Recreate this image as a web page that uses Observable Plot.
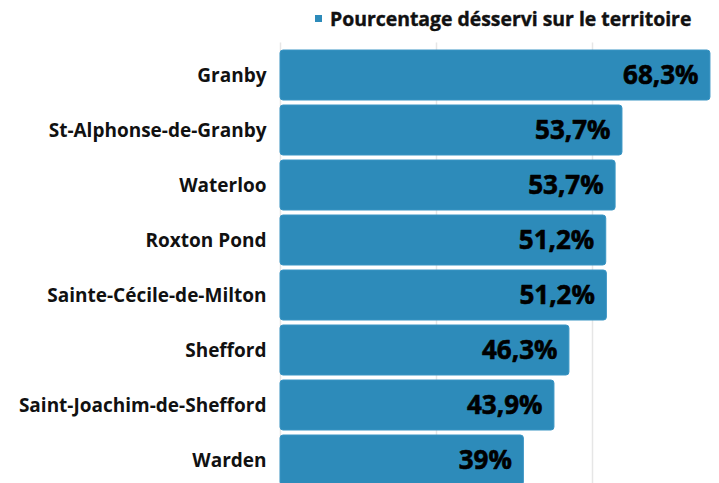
<!DOCTYPE html>
<html><head><meta charset="utf-8">
<script src="https://cdn.jsdelivr.net/npm/d3@7"></script>
<script src="https://cdn.jsdelivr.net/npm/@observablehq/plot@0.6"></script>
<style>
body{margin:0;background:#fff;font-family:"Open Sans",sans-serif;}
#wrap{position:relative;width:719px;height:483px;overflow:hidden;}
#legend{position:absolute;left:315px;top:5px;display:flex;align-items:center;font-weight:700;font-size:19.4px;color:#111;white-space:nowrap;-webkit-text-stroke:0.4px #111;}
#legend .sw{width:7px;height:7px;background:#2d8bba;margin-right:8px;-webkit-text-stroke:0;}
</style></head>
<body><div id="wrap"><div id="legend"><span class="sw"></span><span id="legtext"></span></div><div id="chart"></div></div>
<script>
const seriesName = "Pourcentage désservi sur le territoire";
const categories = ["Granby","St-Alphonse-de-Granby","Waterloo","Roxton Pond","Sainte-Cécile-de-Milton","Shefford","Saint-Joachim-de-Shefford","Warden"];
const values = [68.9, 54.8, 53.7, 52.2, 52.3, 46.3, 43.9, 39.0];
const valueLabels = ["68,3%","53,7%","53,7%","51,2%","51,2%","46,3%","43,9%","39%"];
const gridTicks = [0, 25, 50];

document.getElementById("legtext").textContent = seriesName;
const data = categories.map((c,i)=>({cat:c, v:values[i], label:valueLabels[i]}));
const color = "#2d8bba";
const chart = Plot.plot({
  width: 719, height: 492,
  marginLeft: 280, marginRight: 0, marginTop: 42.5, marginBottom: 0,
  style: {fontFamily: "Open Sans", background: "#fff", overflow: "visible"},
  x: {domain: [0, 70.35], axis: null},
  y: {domain: categories, padding: 0.1, label: null, tickSize: 0, tickPadding: 14},
  marks: [
    Plot.ruleX(gridTicks, {stroke: "#e6e6e6", strokeWidth: 1.5}),
    Plot.barX(data, {y: "cat", x: "v", fill: color, stroke: "#3a95c4", strokeWidth: 1, rx: 3}),
    Plot.text(data, {y: "cat", x: "v", text: "label", dx: -12, textAnchor: "end", fontSize: 26, fontWeight: 700, fill: "#000", stroke: "#000", strokeWidth: 0.6}),
    Plot.axisY({tickSize: 0, tickPadding: 14, fontSize: 19, fontWeight: 700, fill: "#111", stroke: "#111", strokeWidth: 0.4, label: null})
  ]
});
document.getElementById("chart").appendChild(chart);
</script></body></html>
